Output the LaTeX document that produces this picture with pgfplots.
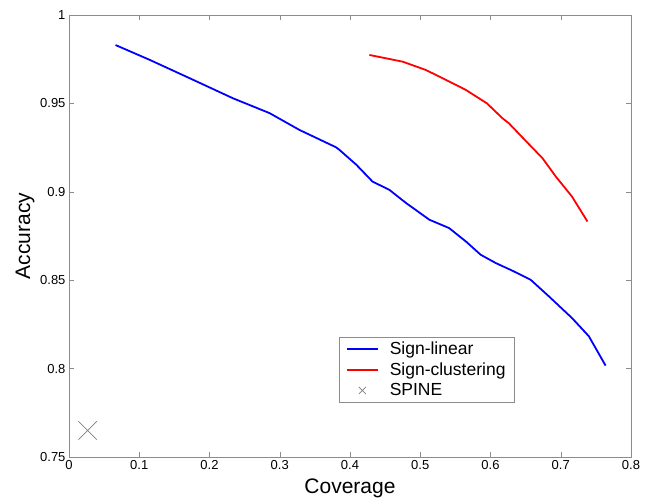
\documentclass[border=0pt]{standalone}
\usepackage{fontspec}
\setmainfont{Liberation Sans}
\usepackage{pgfplots}
\pgfplotsset{compat=1.18}
\pgfplotsset{
  marklegend/.style={legend image code/.code={\draw[##1, mark size=5pt] plot coordinates {(15.5pt,0pt)}; \path (0pt,0pt) (40pt,0pt);}},
}
\begin{document}
\begin{tikzpicture}[x=1pt,y=1pt]
\path[use as bounding box] (0,0) rectangle (648,501);
\begin{axis}[
  at={(69pt,44pt)}, anchor=south west,
  width=562pt, height=442pt, scale only axis,
  xmin=0, xmax=0.8, ymin=0.75, ymax=1,
  xtick={0,0.1,...,0.8},
  ytick={0.75,0.8,0.85,0.9,0.95,1},
  scaled ticks=false,
  /pgf/number format/assume math mode=true,
  tick label style={font=\fontsize{13}{15}\selectfont, black},
  axis line style={draw=gray!90},
  every tick/.style={draw=gray!90},
  tick align=inside, major tick length=5pt,
  xlabel={Coverage}, ylabel={Accuracy},
  label style={font=\fontsize{21}{24}\selectfont},
  xlabel style={at={(axis description cs:0.5,0)}, anchor=north, yshift=-18pt},
  ylabel style={at={(axis description cs:0,0.5)}, anchor=south, yshift=31pt},
  legend style={at={(rel axis cs:0.48,0.2715)}, anchor=north west,
    draw=gray!90, font=\fontsize{17.5}{19}\selectfont, row sep=2.5pt,
    inner xsep=7pt, inner ysep=3pt},
  legend cell align=left,
  legend image code/.code={\draw[#1] (0pt,0pt) -- (31pt,0pt); \path (0pt,0pt) (40pt,0pt);},
  legend image post style={line width=1.8pt},
]
\addplot[blue, line width=1.8pt] coordinates {
(0.0663,0.9830) (0.115,0.9746) (0.172,0.9642) (0.2334,0.9529) (0.2855,0.9445)
(0.328,0.9350) (0.380,0.9252) (0.385,0.9237) (0.409,0.9153) (0.432,0.9058)
(0.456,0.9011) (0.480,0.8936) (0.513,0.8842) (0.541,0.8795) (0.565,0.8719)
(0.586,0.8644) (0.6075,0.8597) (0.631,0.8554) (0.657,0.8503) (0.683,0.8409)
(0.716,0.8286) (0.740,0.8183) (0.7638,0.8017)
};
\addlegendentry{Sign-linear}
\addplot[red, line width=1.8pt] coordinates {
(0.4276,0.9774) (0.475,0.9736) (0.508,0.9689) (0.532,0.9642) (0.565,0.9576)
(0.595,0.9500) (0.617,0.9416) (0.626,0.9388) (0.648,0.9297) (0.674,0.9190)
(0.693,0.9086) (0.716,0.8973) (0.738,0.8832)
};
\addlegendentry{Sign-clustering}
\addplot[only marks, mark=x, mark size=13pt, gray, mark options={line width=0.7pt}, marklegend] coordinates {(0.0265,0.765)};
\addlegendentry{SPINE}
\end{axis}
\end{tikzpicture}
\end{document}
